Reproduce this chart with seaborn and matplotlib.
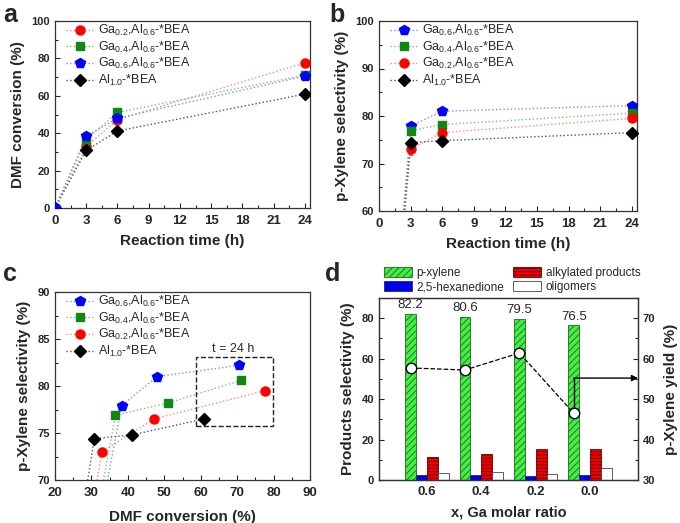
import numpy as np
import pandas as pd
import matplotlib
matplotlib.use("Agg")
import matplotlib.pyplot as plt
from matplotlib.patches import Patch, Rectangle
import seaborn as sns

sns.set_style("ticks")
plt.rcParams['font.family'] = ['Liberation Sans', 'DejaVu Sans']
plt.rcParams['mathtext.default'] = 'regular'
plt.rcParams['hatch.linewidth'] = 0.6

# ---------------- data ----------------
time_h = [0, 3, 6, 24]
labels = {
    "Ga02": r"Ga$_{0.2}$,Al$_{0.6}$-*BEA",
    "Ga04": r"Ga$_{0.4}$,Al$_{0.6}$-*BEA",
    "Ga06": r"Ga$_{0.6}$,Al$_{0.6}$-*BEA",
    "Al10": r"Al$_{1.0}$-*BEA",
}
conv_Ga02 = [0, 32.9, 47.2, 77.6]
conv_Ga04 = [0, 36.6, 51.1, 71.1]
conv_Ga06 = [0, 38.3, 48.0, 70.5]
conv_Al10 = [0, 30.8, 41.2, 60.9]

sel_Ga06 = [0, 77.9, 81.0, 82.2]
sel_Ga04 = [0, 76.9, 78.2, 80.6]
sel_Ga02 = [0, 73.0, 76.5, 79.5]
sel_Al10 = [0, 74.4, 74.8, 76.5]

err_Ga06 = [0, 0.5, 0.4, 0.5]
err_Ga04 = [0, 0.6, 0.4, 0.5]
err_Ga02 = [0, 1.3, 0.8, 0.6]
err_Al10 = [0, 0.8, 1.0, 0.4]

ga_ratio = ["0.6", "0.4", "0.2", "0.0"]
pxylene = [82.2, 80.6, 79.5, 76.5]
hexanedione = [2.5, 2.7, 2.2, 2.5]
alkylated = [11.5, 12.7, 15.2, 15.2]
oligomers = [3.5, 3.9, 3.2, 5.8]
pxylene_yield = [57.7, 57.2, 61.4, 46.5]

# ---------------- styles ----------------
sty = {
    "Ga02": dict(color="#ff0000", lc="#f08a8a", marker="o", ms=6.5),
    "Ga04": dict(color="#118811", lc="#7fc07f", marker="s", ms=6.0),
    "Ga06": dict(color="#0000ff", lc="#8c8cdc", marker="p", ms=7.5),
    "Al10": dict(color="#000000", lc="#50507a", marker="D", ms=6.0),
}

W, H = 680, 523
fig = plt.figure(figsize=(W / 100, H / 100), dpi=100)


def axes_px(l, t, r, b):
    return fig.add_axes([l / W, 1 - b / H, (r - l) / W, (b - t) / H])


def style_ax(ax):
    ax.tick_params(direction="in", which="both", width=0.8)
    ax.tick_params(axis="x", labelsize=9.5, pad=5)
    ax.tick_params(axis="y", labelsize=8)
    ax.tick_params(which="major", length=3.5)
    ax.tick_params(which="minor", length=2)
    for lab in ax.get_xticklabels() + ax.get_yticklabels():
        lab.set_fontweight("bold")
    for s in ax.spines.values():
        s.set_linewidth(0.9)
        s.set_color("#333333")


def draw_series(ax, key, x, y, err=None, skip_first=False, clip=True):
    st = sty[key]
    df = pd.DataFrame({"x": x, "y": y})
    sns.lineplot(data=df, x="x", y="y", ax=ax, color=st["lc"], linestyle=":",
                 linewidth=1.0, sort=False, legend=False, zorder=2)
    i0 = 1 if skip_first else 0
    if err is not None:
        ax.errorbar(x[i0:], y[i0:], yerr=err[i0:], fmt="none", ecolor="#777777",
                    elinewidth=0.8, capsize=1.5, zorder=3)
    ax.plot(x[i0:], y[i0:], linestyle="none", marker=st["marker"], markersize=st["ms"],
            color=st["color"], markeredgecolor=st["color"], zorder=4, clip_on=clip)
    h, = ax.plot([], [], linestyle=":", linewidth=1.0, color=st["lc"], marker=st["marker"],
                 markersize=st["ms"], markerfacecolor=st["color"],
                 markeredgecolor=st["color"])
    return h


leg_kw = dict(frameon=False, fontsize=9, handlelength=2.1, handletextpad=0.45,
              labelspacing=0.12, borderaxespad=0)

# ---------------- panel a ----------------
axa = axes_px(55, 21, 310, 208)
ha = {}
for key, conv in [("Ga02", conv_Ga02), ("Ga04", conv_Ga04), ("Al10", conv_Al10), ("Ga06", conv_Ga06)]:
    ha[key] = draw_series(axa, key, time_h, conv, clip=True)
axa.set_xlim(0, 24.5)
axa.set_ylim(0, 100)
axa.set_xticks(range(0, 25, 3))
axa.set_xticks(np.arange(1.5, 24.5, 3), minor=True)
axa.set_yticks(range(0, 101, 20))
axa.set_yticks(range(10, 100, 20), minor=True)
axa.set_xlabel("Reaction time (h)", fontsize=11, fontweight="bold", labelpad=5)
axa.set_ylabel("DMF conversion (%)", fontsize=11, fontweight="bold", labelpad=5)
style_ax(axa)
order_a = ["Ga02", "Ga04", "Ga06", "Al10"]
axa.legend([ha[k] for k in order_a], [labels[k] for k in order_a],
           loc="upper left", bbox_to_anchor=(0.025, 1.015), **leg_kw)

# ---------------- panel b ----------------
axb = axes_px(379, 21, 637, 211)
hb = {}
for key, sel, err in [("Ga06", sel_Ga06, err_Ga06), ("Ga04", sel_Ga04, err_Ga04),
                      ("Ga02", sel_Ga02, err_Ga02), ("Al10", sel_Al10, err_Al10)]:
    hb[key] = draw_series(axb, key, time_h, sel, err=err, skip_first=True, clip=False)
axb.set_xlim(0, 24.5)
axb.set_ylim(60, 100)
axb.set_xticks(range(0, 25, 3))
axb.set_xticks(np.arange(1.5, 24.5, 3), minor=True)
axb.set_yticks(range(60, 101, 10))
axb.set_yticks(range(65, 100, 10), minor=True)
axb.set_xlabel("Reaction time (h)", fontsize=11, fontweight="bold", labelpad=5)
axb.set_ylabel("p-Xylene selectivity (%)", fontsize=11, fontweight="bold", labelpad=5)
style_ax(axb)
order_bc = ["Ga06", "Ga04", "Ga02", "Al10"]
axb.legend([hb[k] for k in order_bc], [labels[k] for k in order_bc],
           loc="upper left", bbox_to_anchor=(0.025, 1.015), **leg_kw)

# ---------------- panel c ----------------
axc = axes_px(55, 292, 310, 480)
hc = {}
for key, conv, sel in [("Ga06", conv_Ga06, sel_Ga06), ("Ga04", conv_Ga04, sel_Ga04),
                       ("Ga02", conv_Ga02, sel_Ga02), ("Al10", conv_Al10, sel_Al10)]:
    hc[key] = draw_series(axc, key, conv, sel, skip_first=True)
axc.add_patch(Rectangle((58.7, 75.7), 21.1, 7.35, fill=False, linestyle="--",
                        linewidth=1.0, edgecolor="#222222", zorder=5))
axc.text(63, 83.3, "t = 24 h", fontsize=9, ha="left", va="bottom")
axc.set_xlim(20, 90)
axc.set_ylim(70, 90)
axc.set_xticks(range(20, 91, 10))
axc.set_xticks(range(25, 90, 10), minor=True)
axc.set_yticks(range(70, 91, 5))
axc.set_yticks(np.arange(72.5, 90, 5), minor=True)
axc.set_xlabel("DMF conversion (%)", fontsize=11, fontweight="bold", labelpad=8)
axc.set_ylabel("p-Xylene selectivity (%)", fontsize=11, fontweight="bold", labelpad=5)
style_ax(axc)
axc.legend([hc[k] for k in order_bc], [labels[k] for k in order_bc],
           loc="upper left", bbox_to_anchor=(0.025, 1.015), **leg_kw)

# ---------------- panel d ----------------
axd = axes_px(379, 298, 638, 480)
prod_names = ["p-xylene", "2,5-hexanedione", "alkylated products", "oligomers"]
long = pd.DataFrame({
    "ratio": ga_ratio * 4,
    "product": sum([[p] * 4 for p in prod_names], []),
    "value": pxylene + hexanedione + alkylated + oligomers,
})
face = {"p-xylene": "#44ee44", "2,5-hexanedione": "#0000ee",
        "alkylated products": "#ee0000", "oligomers": "#ffffff"}
hatch = {"p-xylene": "/////", "2,5-hexanedione": "", "alkylated products": "-----",
         "oligomers": ""}
edge = {"p-xylene": "#1a6a1a", "2,5-hexanedione": "#222266",
        "alkylated products": "#660000", "oligomers": "#444444"}
sns.barplot(data=long, x="ratio", y="value", hue="product", order=ga_ratio,
            hue_order=prod_names, palette=face, width=0.8, ax=axd, legend=False,
            edgecolor="#333333", linewidth=0.6, saturation=1)
for cont, name in zip(axd.containers, prod_names):
    for p in cont:
        p.set_hatch(hatch[name])
        p.set_edgecolor(edge[name])
axd.bar_label(axd.containers[0], labels=[f"{v:.1f}" for v in pxylene],
              fontsize=9.5, padding=2)
axd.set_xlim(-0.88, 3.88)
axd.set_ylim(0, 90)
axd.set_yticks(range(0, 81, 20))
axd.set_yticks(range(10, 90, 20), minor=True)
axd.set_xlabel("x, Ga molar ratio", fontsize=10.5, fontweight="bold")
axd.set_ylabel("Products selectivity (%)", fontsize=11, fontweight="bold", labelpad=5)
style_ax(axd)
axd.tick_params(axis="x", which="both", length=0, pad=4)
axd.xaxis.set_label_coords(0.5, -0.181)
axd.xaxis.label.set_va("center")

ax2 = axd.twinx()
xpos = np.arange(len(ga_ratio)) - 0.3
ax2.plot(xpos, pxylene_yield, linestyle="--", color="black", linewidth=0.9,
         marker="o", markersize=7.5, markerfacecolor="white",
         markeredgecolor="black", zorder=5)
ax2.set_ylim(30, 75)
ax2.set_yticks(range(30, 71, 10))
ax2.set_yticks(range(35, 75, 10), minor=True)
ax2.set_ylabel("p-Xylene yield (%)", fontsize=11, fontweight="bold", labelpad=6)
style_ax(ax2)
ax2.annotate("", xy=(3.88, 55.2), xytext=(xpos[3], 55.2),
             arrowprops=dict(arrowstyle="-|>", color="black", lw=1.0,
                             mutation_scale=9, shrinkA=0, shrinkB=0))
ax2.plot([xpos[3], xpos[3]], [pxylene_yield[3] + 1.0, 55.2], color="black", lw=1.0)

handles = [Patch(facecolor=face[n], hatch=hatch[n], edgecolor=edge[n], linewidth=0.6)
           for n in prod_names]
axd.legend(handles=handles, labels=prod_names,
           loc="lower left", bbox_to_anchor=(0.0, 1.0), ncol=2, frameon=False,
           fontsize=8.5, handlelength=2.4, handleheight=0.9, handletextpad=0.4,
           labelspacing=0.2, columnspacing=0.7, borderaxespad=0)

# panel letters
for x, y, t in [(3, 3, "a"), (329, 3, "b"), (3, 262, "c"), (325, 262, "d")]:
    fig.text(x / W, 1 - y / H, t, fontsize=18, fontweight="bold", va="top", ha="left")

fig.savefig("out.png", dpi=100)
